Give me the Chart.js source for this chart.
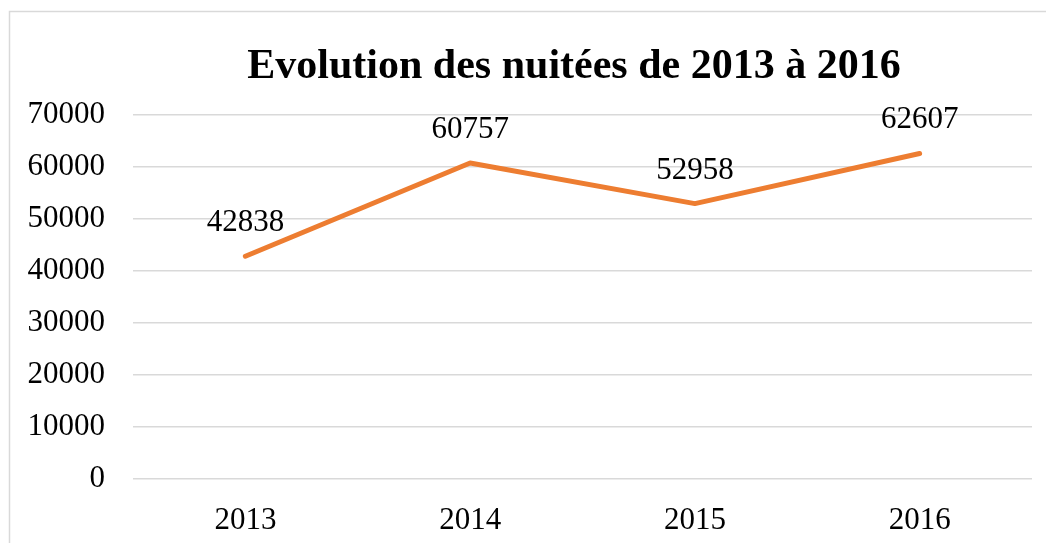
<!DOCTYPE html>
<html>
<head>
  <meta charset="UTF-8">
  <title>Evolution des nuitées</title>
  <script src="https://cdn.jsdelivr.net/npm/chart.js"></script>
  <style>
    body {
      margin: 0;
      background: #fff;
    }
    #wrap {
      width: 1046px;
      height: 543px;
      position: relative;
    }
  </style>
</head>
<body>
  <div id="wrap"><canvas id="chart"></canvas></div>

  <script>
    const chartTitle = 'Evolution des nuitées de 2013 à 2016';
    const years = ['2013', '2014', '2015', '2016'];
    const nights = [42838, 60757, 52958, 62607];
    const yTicks = [0, 10000, 20000, 30000, 40000, 50000, 60000, 70000];

    const serif = "'Liberation Serif', 'Times New Roman', serif";

    // frame + title + value labels, drawn by hand like Excel does
    const decor = {
      id: 'decor',
      beforeDraw(chart) {
        const ctx = chart.ctx;
        ctx.save();
        ctx.strokeStyle = '#d9d9d9';
        ctx.lineWidth = 1.5;
        ctx.strokeRect(9.5, 11.5, 1100, 600);
        ctx.restore();
      },
      afterDatasetsDraw(chart) {
        const ctx = chart.ctx;
        ctx.save();
        ctx.fillStyle = '#000';
        ctx.textAlign = 'center';
        ctx.textBaseline = 'alphabetic';
        ctx.font = 'bold 42px ' + serif;
        ctx.fillText(chartTitle, 574, 78);

        ctx.font = '31px ' + serif;
        chart.getDatasetMeta(0).data.forEach((pt, i) => {
          ctx.fillText(String(nights[i]), pt.x, pt.y - 25);
        });
        ctx.restore();
      }
    };

    new Chart(document.getElementById('chart'), {
      type: 'line',
      data: {
        labels: years,
        datasets: [{
          data: nights,
          borderColor: '#ed7d31',
          borderWidth: 5,
          borderCapStyle: 'round',
          borderJoinStyle: 'round',
          pointRadius: 0,
          tension: 0,
          fill: false
        }]
      },
      options: {
        responsive: true,
        maintainAspectRatio: false,
        animation: false,
        layout: { padding: { top: 115, right: 14, left: 0, bottom: 0 } },
        plugins: {
          legend: { display: false },
          title: { display: false },
          tooltip: { enabled: false }
        },
        scales: {
          x: {
            offset: true,
            grid: { display: false },
            border: { display: false },
            ticks: {
              color: '#000',
              font: { family: serif, size: 31 },
              padding: 15,
              maxRotation: 0
            },
            afterFit(scale) { scale.height = 64; }
          },
          y: {
            min: 0,
            max: 70000,
            afterBuildTicks(scale) {
              scale.ticks = yTicks.map(v => ({ value: v }));
            },
            grid: {
              color: '#d9d9d9',
              lineWidth: 1.5,
              drawTicks: false
            },
            border: { display: false },
            ticks: {
              color: '#000',
              font: { family: serif, size: 31 },
              padding: 28,
              callback: v => String(v)
            },
            afterFit(scale) { scale.width = 133; }
          }
        }
      },
      plugins: [decor]
    });
  </script>
</body>
</html>
